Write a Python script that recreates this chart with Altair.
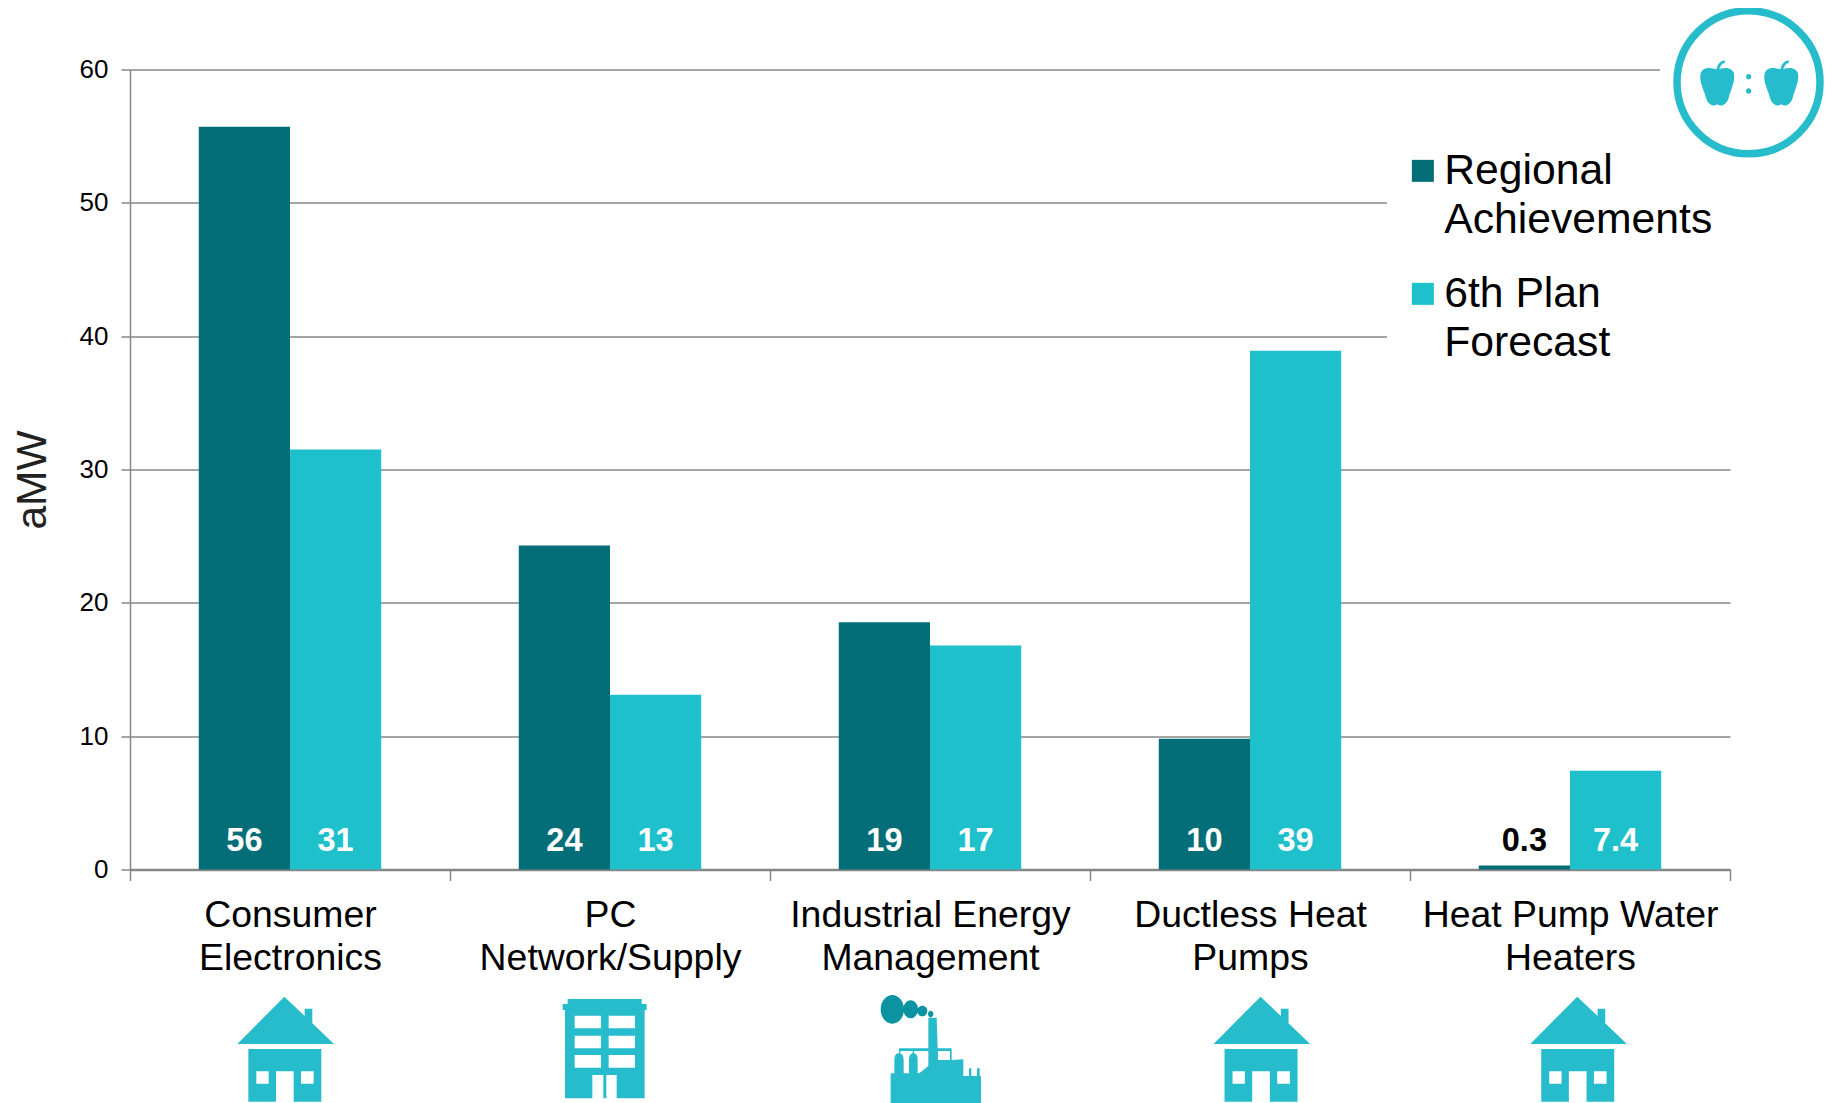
import re
import altair as alt
import pandas as pd

categories = ["Consumer|Electronics", "PC|Network/Supply", "Industrial Energy|Management",
              "Ductless Heat|Pumps", "Heat Pump Water|Heaters"]
series = ["Regional|Achievements", "6th Plan|Forecast"]
regional = [55.7, 24.3, 18.55, 9.8, 0.3]
forecast = [31.5, 13.1, 16.8, 38.9, 7.4]
regional_labels = ["56", "24", "19", "10", "0.3"]
forecast_labels = ["31", "13", "17", "39", "7.4"]
regional_label_fill = ["white", "white", "white", "white", "black"]
forecast_label_fill = ["white"] * 5
y_ticks = [0, 10, 20, 30, 40, 50, 60]

DARK, LIGHT, ICON, SMOKE = "#036e78", "#1ec0cc", "#27bccb", "#0b93a1"
GREY = "#868686"
FONT = "Liberation Sans"

rows = []
for i, c in enumerate(categories):
    rows.append(dict(cat=c, s=series[0], v=regional[i], lab=regional_labels[i], fill=regional_label_fill[i]))
    rows.append(dict(cat=c, s=series[1], v=forecast[i], lab=forecast_labels[i], fill=forecast_label_fill[i]))
df = pd.DataFrame(rows)

x_enc = alt.X("cat:N", sort=categories, title=None,
              scale=alt.Scale(paddingInner=0, paddingOuter=0),
              axis=alt.Axis(tickBand="extent", labelAngle=0, labelFontSize=37.4, labelFont=FONT,
                            labelColor="black", labelExpr="split(datum.label,'|')",
                            labelLineHeight=43, labelPadding=16, labelLimit=0, tickSize=11,
                            tickColor=GREY, tickWidth=1.5, domainColor=GREY, domainWidth=2.5,
                            grid=False, labelBaseline="top"))
y_enc = alt.Y("v:Q", scale=alt.Scale(domain=[0, 60], nice=False),
              axis=alt.Axis(values=y_ticks, title="aMW", titleFontSize=42.5, titleFont=FONT,
                            titleFontWeight="normal", titleColor="#222222", titleX=-76, titleY=410,
                            titleAngle=270, labelFontSize=26, labelFont=FONT, labelColor="black",
                            labelPadding=13, tickSize=9, tickColor=GREY, tickWidth=1.5,
                            domainColor=GREY, domainWidth=1.5, grid=True, gridColor=GREY,
                            gridWidth=1.5))
off_enc = alt.XOffset("s:N", sort=series, scale=alt.Scale(paddingInner=0, paddingOuter=0.754))

bars = alt.Chart(df).mark_bar(cornerRadius=0).encode(
    x=x_enc, y=y_enc, xOffset=off_enc,
    color=alt.Color("s:N", sort=series, scale=alt.Scale(domain=series, range=[DARK, LIGHT]),
                    legend=alt.Legend(orient="none", legendX=1271.5, legendY=80, title=None,
                                      padding=0, symbolType="square",
                                      symbolSize=484, symbolStrokeWidth=0, labelFont=FONT,
                                      labelFontSize=42.7, labelColor="black", labelLimit=0,
                                      labelOffset=0, rowPadding=30,
                                      labelExpr="split(datum.label,'|')")),
)
bar_text = alt.Chart(df).mark_text(font=FONT, fontWeight="bold", fontSize=32.5, baseline="middle").encode(
    x=alt.X("cat:N", sort=categories), xOffset=off_enc, y=alt.value(771),
    text="lab:N", fill=alt.Fill("fill:N", scale=None),
)


def norm(path, cx, cy, half):
    i = [0]

    def rep(m):
        v = float(m.group(0))
        c = cx if i[0] % 2 == 0 else cy
        i[0] += 1
        return f"{(v - c) / half:.4f}"
    return re.sub(r"-?\d+\.?\d*", rep, path)


def ellipse(x, y, rx, ry):
    k = 0.5523
    return (f"M{x-rx} {y} C{x-rx} {y-k*ry} {x-k*rx} {y-ry} {x} {y-ry} "
            f"C{x+k*rx} {y-ry} {x+rx} {y-k*ry} {x+rx} {y} "
            f"C{x+rx} {y+k*ry} {x+k*rx} {y+ry} {x} {y+ry} "
            f"C{x-k*rx} {y+ry} {x-rx} {y+k*ry} {x-rx} {y} Z ")


def box(x0, y0, x1, y1):
    # counter-clockwise hole
    return f"M{x0} {y0} L{x0} {y1} L{x1} {y1} L{x1} {y0} Z "


HOUSE = norm("M163 20 L224 78 L224 56 L247 56 L247 100 L312 162 L22 162 Z "
             "M55 177 L274 177 L274 335 L191 335 L191 244 L138 244 L138 335 L55 335 Z "
             + box(79, 244, 116, 281) + box(213, 244, 251, 281), 180, 180, 180)
BUILDING = norm("M53 27 L275 27 L275 42 L290 42 L290 60 L284 60 L284 325 L200 325 L200 255 L169 255 "
                "L169 325 L160 325 L160 255 L127 255 L127 325 L45 325 L45 60 L38 60 L38 42 L53 42 Z "
                + box(74, 77, 153, 115) + box(176, 77, 255, 115)
                + box(74, 137, 153, 175) + box(176, 137, 255, 175)
                + box(74, 195, 153, 233) + box(176, 195, 255, 233), 180, 180, 180)
FACTORY = norm("M62 339 L62 250 L73 250 L73 210 C73 195 80 190 87 190 C94 190 101 195 101 210 L101 250 "
               "L117 250 L117 208 C117 195 124 190 130 190 C137 190 143 195 143 208 L143 250 L148 250 "
               "L175 228 L175 183 L132 183 L132 190 L128 190 L128 183 L91 183 L91 190 L87 190 L87 175 "
               "L175 175 L175 83 L200 83 L203 175 L245 175 L245 210 L280 208 L280 258 L297 258 L297 235 L304 235 "
               "L304 258 L321 258 L321 235 L329 235 L329 258 L333 258 L333 339 Z "
               "M204 183 L204 210 L240 210 L240 183 Z", 180, 180, 180)
SMOKE_PATH = norm(ellipse(67, 58, 35, 43) + ellipse(122, 58, 22, 27)
                  + ellipse(157, 63, 15, 16) + ellipse(182, 72, 8, 10), 180, 180, 180)


def apple(d):
    return (f"M{82+d} 90 C{95+d} 82 {125+d} 78 {132+d} 100 C{136+d} 125 {122+d} 150 {117+d} 170 "
            f"C{112+d} 195 {90+d} 202 {82+d} 192 C{74+d} 202 {52+d} 195 {47+d} 170 "
            f"C{42+d} 150 {26+d} 125 {32+d} 100 C{38+d} 78 {68+d} 82 {82+d} 90 Z "
            f"M{79+d} 90 C{81+d} 75 {90+d} 63 {104+d} 61 L{105+d} 68 C{96+d} 70 {90+d} 78 {87+d} 90 Z ")


APPLES = norm(apple(0) + apple(192) + ellipse(176, 110, 8, 8) + ellipse(176, 153, 8, 8), 195, 120, 195)

one = alt.Data(values=[{}])


def icon(path, px, py, side, color):
    return alt.Chart(one).mark_point(shape=path, size=side * side, filled=True, fill=color,
                                     opacity=1, strokeWidth=0).encode(
        x=alt.value(px - 130), y=alt.value(py - 69.5))


mask_top = alt.Chart(one).mark_rect(color="white").encode(
    x=alt.value(1530), x2=alt.value(1602), y=alt.value(-5), y2=alt.value(5))
mask_legend = alt.Chart(one).mark_rect(color="white").encode(
    x=alt.value(1257), x2=alt.value(1602), y=alt.value(120), y2=alt.value(280))
ring = alt.Chart(one).mark_point(shape="circle", size=143 * 143, filled=False, fill="white",
                                 stroke=ICON, strokeWidth=7.5, opacity=1).encode(
    x=alt.value(1748.5 - 130), y=alt.value(82.3 - 69.5))

chart = alt.layer(
    bars, bar_text,
    icon(HOUSE, 290, 1050, 120, ICON),
    icon(BUILDING, 610, 1050, 120, ICON),
    icon(FACTORY, 930, 1050, 120, ICON),
    icon(SMOKE_PATH, 930, 1050, 120, SMOKE),
    icon(HOUSE, 1266.2, 1050, 120, ICON),
    icon(HOUSE, 1582.9, 1050, 120, ICON),
    mask_top, mask_legend, ring,
    icon(APPLES, 1755, 80, 130, ICON),
).resolve_scale(x="shared").properties(
    width=1600, height=800,
    padding={"left": 122, "top": 61.5, "right": 94, "bottom": 233.5},
    autosize=alt.AutoSizeParams(type="none"),
).configure(style={"guide-label": {"lineHeight": 49}}, view=alt.ViewConfig(strokeWidth=0))

chart.save("out.html", embed_options={"renderer": "svg", "actions": False})
